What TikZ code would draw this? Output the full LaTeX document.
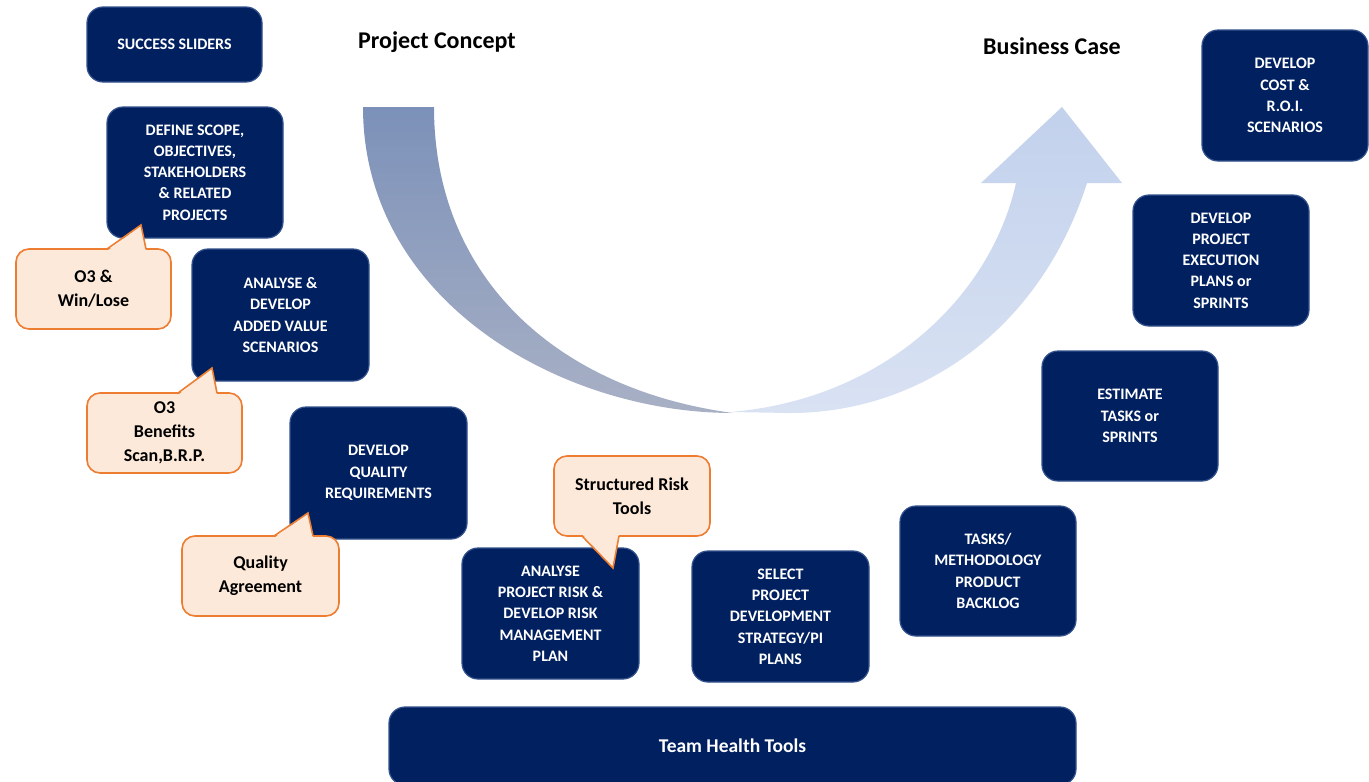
\documentclass[tikz,border=0pt]{standalone}
\usepackage{fontspec}
\setmainfont{Carlito}
\definecolor{navy}{RGB}{0,32,96}
\definecolor{boxedge}{RGB}{52,82,140}
\definecolor{callfill}{RGB}{253,233,217}
\definecolor{callorange}{RGB}{237,125,49}
\definecolor{arrdarktop}{RGB}{124,145,185}
\definecolor{arrdarkbot}{RGB}{168,176,197}
\definecolor{arrlighttop}{RGB}{194,209,236}
\definecolor{arrlightbot}{RGB}{217,226,243}
\newcommand\boxfont{\bfseries\fontsize{16}{21.3}\selectfont}
\newcommand\callfont{\bfseries\fontsize{18}{24}\selectfont}
\newcommand\titlefont{\bfseries\fontsize{24}{28}\selectfont}
\tikzset{
  navybox/.style={draw=boxedge, fill=navy, line width=1.2pt, rounded corners=16pt,
    text=white, font=\boxfont, align=center, inner sep=0pt},
  callbox/.style={draw=callorange, fill=callfill, line width=1.6pt, rounded corners=13pt,
    text=black, font=\callfont, align=center, inner sep=0pt},
  ptrfill/.style={fill=callfill},
  ptrline/.style={draw=callorange, line width=1.6pt, line join=miter},
  titletext/.style={font=\titlefont, text=black, inner sep=0pt}
}
\begin{document}
\begin{tikzpicture}[x=1pt,y=-1pt]
\useasboundingbox (0,0) rectangle (1369,782);
\fill[white] (0,0) rectangle (1369,782);

% big U arrow
\path[top color=arrdarktop, bottom color=arrdarkbot]
  (363,107) .. controls (363,300) and (560,413) .. (733,413)
  .. controls (560,390) and (434,280) .. (434,107) -- cycle;
\path[top color=arrlighttop, bottom color=arrlightbot]
  (730,412) .. controls (880,400) and (990,300) .. (1016,183)
  -- (981,183) -- (1062,107) -- (1122,183) -- (1087,183)
  .. controls (1040,330) and (920,413) .. (790,413) -- cycle;

% titles
\node[titletext] (concept) at (437,42) {Project Concept};
\node[titletext] (bcase) at (1052,46) {Business Case};

% navy boxes
\node[navybox, minimum width=175pt, minimum height=75pt] (ss) at (174.5,44.5) {SUCCESS SLIDERS};
\node[navybox, minimum width=176pt, minimum height=131pt] (scope) at (195,172.5)
  {DEFINE SCOPE,\\OBJECTIVES,\\STAKEHOLDERS\\\& RELATED\\PROJECTS};
\node[navybox, minimum width=177pt, minimum height=132pt] (added) at (280.5,315)
  {ANALYSE \&\\DEVELOP\\ADDED VALUE\\SCENARIOS};
\node[navybox, minimum width=177pt, minimum height=132pt] (quality) at (378.5,473)
  {DEVELOP\\QUALITY\\REQUIREMENTS};
\node[navybox, minimum width=177pt, minimum height=131pt] (risk) at (550.5,613.5)
  {ANALYSE\\PROJECT RISK \&\\DEVELOP RISK\\MANAGEMENT\\PLAN};
\node[navybox, minimum width=177pt, minimum height=131pt] (select) at (780.5,616.5)
  {SELECT\\PROJECT\\DEVELOPMENT\\STRATEGY/PI\\PLANS};
\node[navybox, minimum width=176pt, minimum height=130pt] (tasks) at (988,571)
  {TASKS/\\METHODOLOGY\\PRODUCT\\BACKLOG};
\node[navybox, minimum width=176pt, minimum height=130pt] (estimate) at (1130,416)
  {ESTIMATE\\TASKS or\\SPRINTS};
\node[navybox, minimum width=176pt, minimum height=131pt] (exec) at (1221,260.5)
  {DEVELOP\\PROJECT\\EXECUTION\\PLANS or\\SPRINTS};
\node[navybox, minimum width=166pt, minimum height=131pt] (cost) at (1285,95.5)
  {DEVELOP\\COST \&\\R.O.I.\\SCENARIOS};
\node[navybox, minimum width=687pt, minimum height=78pt, font=\bfseries\fontsize{19.5}{24}\selectfont]
  (team) at (732.5,746) {Team Health Tools};

% callouts
\node[callbox, minimum width=155pt, minimum height=80pt] (win) at (93.5,289) {O3 \&\\Win/Lose};
\coordinate (winTip) at (141,225);
\fill[ptrfill] (107,251) -- (winTip) -- (146,251) -- cycle;
\draw[ptrline] (107,249) -- (winTip) -- (146,249);

\node[callbox, minimum width=155pt, minimum height=80pt] (benefits) at (164.5,433) {O3\\Benefits\\Scan,B.R.P.};
\coordinate (benTip) at (212,368);
\fill[ptrfill] (178,395) -- (benTip) -- (217,395) -- cycle;
\draw[ptrline] (178,393) -- (benTip) -- (217,393);

\node[callbox, minimum width=157pt, minimum height=80pt] (qa) at (260.5,576) {Quality\\Agreement};
\coordinate (qaTip) at (308,513);
\fill[ptrfill] (274,538) -- (qaTip) -- (313,538) -- cycle;
\draw[ptrline] (274,536) -- (qaTip) -- (313,536);

\node[callbox, minimum width=156pt, minimum height=80pt] (srt) at (632,496) {Structured Risk\\Tools};
\coordinate (srtTip) at (613,568);
\fill[ptrfill] (582,534) -- (srtTip) -- (619,534) -- cycle;
\draw[ptrline] (582,536) -- (srtTip) -- (619,536);
\end{tikzpicture}
\end{document}
